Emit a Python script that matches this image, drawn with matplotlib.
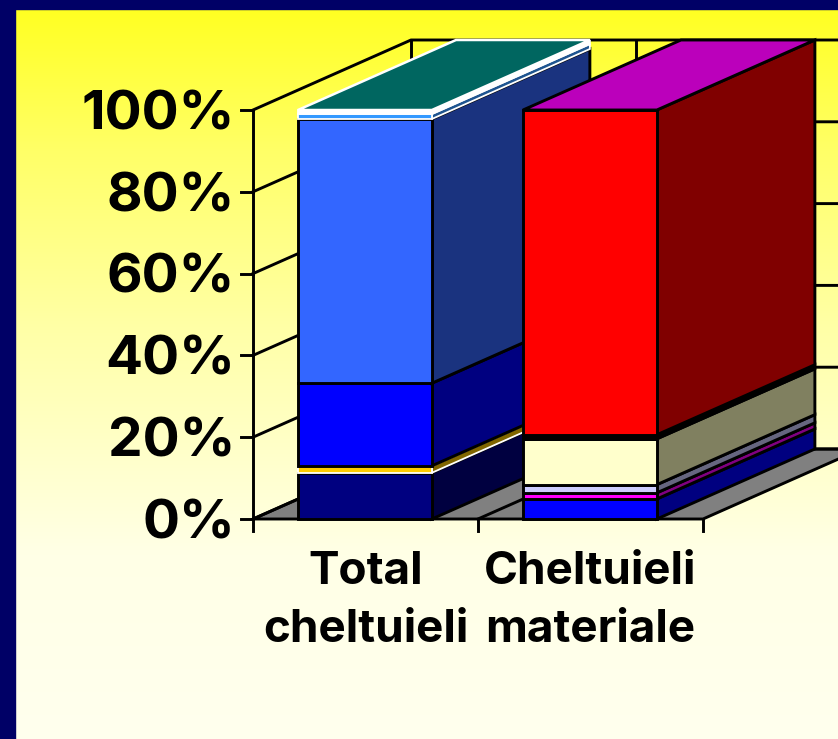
# -*- coding: utf-8 -*-
"""Stacked 100% pseudo-3D columns on a yellow gradient slide."""
import numpy as np
import matplotlib
matplotlib.use("Agg")
import matplotlib.pyplot as plt
from matplotlib.colors import LinearSegmentedColormap
from matplotlib.patches import Polygon, Rectangle

W, H = 838, 739

categories = ["Total\ncheltuieli", "Cheltuieli\nmateriale"]
y_ticks = [0, 20, 40, 60, 80, 100]
y_tick_labels = ["0%", "20%", "40%", "60%", "80%", "100%"]

total_values = [11.3, 1.7, 20.2, 64.6, 1.2, 1.0]
total_front = ["#000080", "#FFCC00", "#0000FF", "#3366FF", "#3399FF", "#FFFFFF"]
total_side = ["#000040", "#806600", "#000080", "#1A337F", "#1F5590", "#FFFFFF"]
total_edge = ["black", "white", "black", "black", "white", "white"]
total_top = "#006660"

material_values = [4.9, 1.5, 2.0, 11.2, 1.0, 79.4]
material_front = ["#0000FF", "#FF00FF", "#CCCCFF", "#FFFFCC", "#000000", "#FF0000"]
material_side = ["#000080", "#800080", "#666680", "#808060", "#000000", "#800000"]
material_edge = ["black"] * 6
material_top = "#BB00BB"

# pixel anchors of the drawing: category unit 225 px, 100% = 409 px
X0, CAT_W = 253, 225
Y0, PCT_H = 519, 4.09
DEPTH_X = 158 / CAT_W     # back wall offset in category units
DEPTH_Y = 70 / PCT_H      # and in percent
BAR_L, BAR_W = 0.2, 0.595
LW = 2.1
FLOOR = "#808080"
FONT = "Inter"


def shift(x, y, d=0.0):
    """Category/percent position pushed back by depth d (0 front, 1 back)."""
    return (x + d * DEPTH_X, y + d * DEPTH_Y)


def quad(ax, pts, face, edge="black", lw=LW, z=2):
    ax.add_patch(Polygon(pts, closed=True, facecolor=face, edgecolor=edge,
                         linewidth=lw, joinstyle="miter", zorder=z))


def draw_bar(ax, pos, values, fronts, sides, edges, top, top_edge, z):
    left = pos + BAR_L
    right = left + BAR_W
    tops = np.cumsum(values)
    bottoms = tops - np.array(values)
    for lo, hi, front, side, edge in zip(bottoms, tops, fronts, sides, edges):
        lw = LW if edge == "black" else 1.3
        quad(ax, [shift(right, lo), shift(right, lo, 1), shift(right, hi, 1), shift(right, hi)],
             side, edge, lw, z)
        quad(ax, [(left, lo), (right, lo), (right, hi), (left, hi)], front, edge, lw, z)
    h = tops[-1]
    quad(ax, [(left, h), (right, h), shift(right, h, 1), shift(left, h, 1)],
         top, top_edge, LW if top_edge == "black" else 1.8, z)


fig = plt.figure(figsize=(W / 100, H / 100), dpi=100, facecolor="#000066")
ax = fig.add_axes([0, 0, 1, 1])
ax.axis("off")

# slide background
bg = LinearSegmentedColormap.from_list(
    "slide", [(0, "#FFFF1E"), (0.2, "#FFFF66"), (0.45, "#FFFFA8"), (0.75, "#FFFFE6"), (1, "#FFFFEE")])
xlim = (-X0 / CAT_W, (W - X0) / CAT_W)
ylim = (-(H - Y0) / PCT_H, Y0 / PCT_H)
ax.imshow(np.linspace(0, 1, 256)[:, None], cmap=bg, aspect="auto", zorder=0,
          extent=(xlim[0], xlim[1], ylim[0], ylim[1]), origin="upper")
ax.set_xlim(xlim)
ax.set_ylim(ylim)
fig.add_artist(Rectangle((0, 0), 15 / W, 1, transform=fig.transFigure, color="#000066", zorder=5))
fig.add_artist(Rectangle((0, 1 - 9 / H), 1, 9 / H, transform=fig.transFigure, color="#000066", zorder=5))

# floor
quad(ax, [shift(0, 0), shift(2, 0), shift(2, 0, 1), shift(0, 0, 1)], FLOOR, z=1)
a, b = shift(1, 0), shift(1, 0, 1)
ax.plot([a[0], b[0]], [a[1], b[1]], color="black", lw=LW, zorder=1.5)

# walls and gridlines
for t, lab in zip(y_ticks, y_tick_labels):
    p0, p1 = shift(0, t), shift(0, t, 1)
    ax.plot([p0[0], p1[0], xlim[1]], [p0[1], p1[1], p1[1]],
            color="black", lw=LW, zorder=1.2)
    ax.plot([-12 / CAT_W, 0], [t, t], color="black", lw=LW, zorder=1.2)
    ax.text(-18 / CAT_W, t - 1.3, lab, ha="right", va="center",
            fontsize=39.5, fontweight="bold", family=FONT, color="black", zorder=6)
ax.plot([0, 0], [0, 100], color="black", lw=LW, zorder=1.2)
for xv in range(3):
    p0, p1 = shift(xv, 0, 1), shift(xv, 100, 1)
    ax.plot([p0[0], p1[0]], [p0[1], p1[1]], color="black", lw=LW, zorder=1.2)
    ax.plot([xv, xv], [0, -12 / PCT_H], color="black", lw=LW, zorder=1.6)

draw_bar(ax, 0, total_values, total_front, total_side, total_edge, total_top, "white", 2)
draw_bar(ax, 1, material_values, material_front, material_side, material_edge, material_top, "black", 3)

for i, name in enumerate(categories):
    ax.text(i + 0.5, -(601 - Y0) / PCT_H, name, ha="center", va="center", linespacing=1.47,
            fontsize=33, fontweight="bold", family=FONT, color="black", zorder=6)

fig.savefig("out.png", dpi=100, facecolor=fig.get_facecolor())
